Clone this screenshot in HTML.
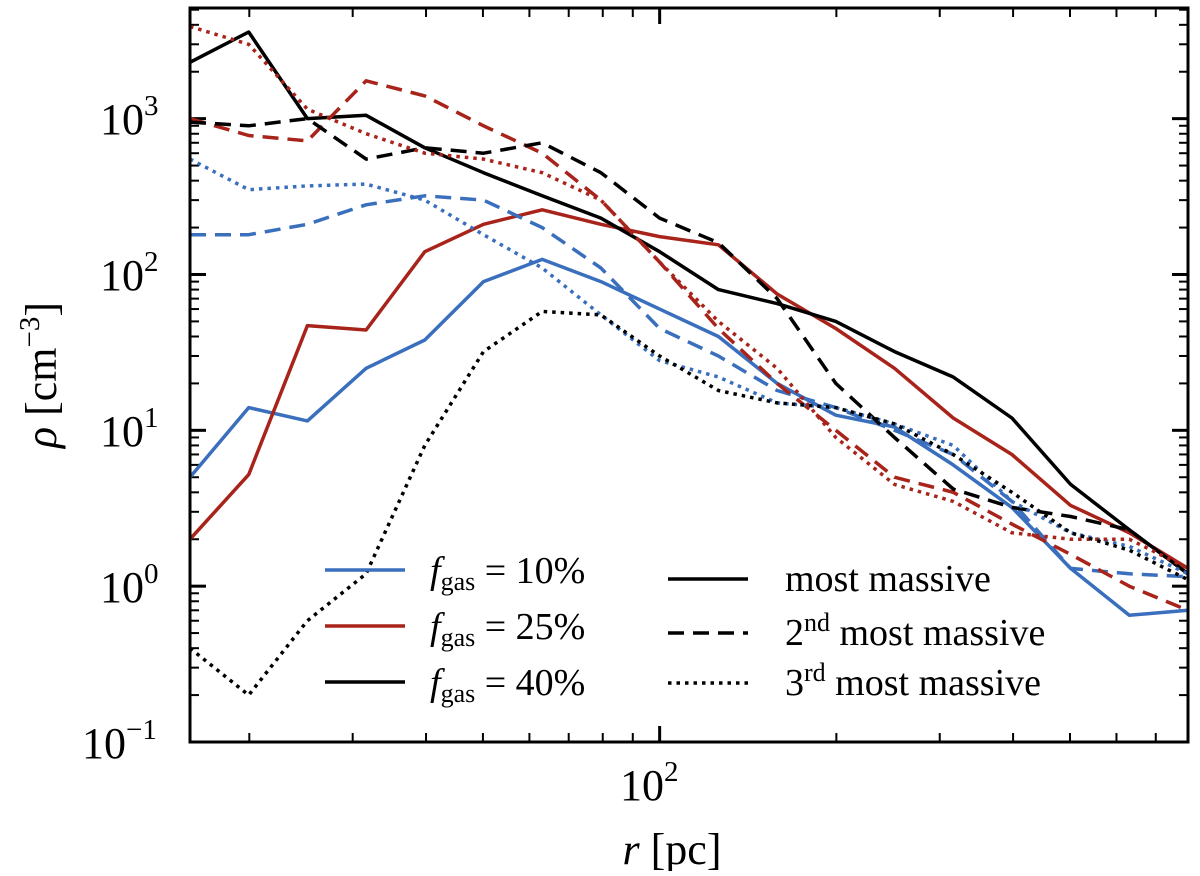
<!DOCTYPE html>
<html><head><meta charset="utf-8"><style>
body{margin:0;background:#fff}
svg text{font-family:"Liberation Serif",serif;fill:#000}
</style></head><body>
<svg id="chart" width="1200" height="871" xmlns="http://www.w3.org/2000/svg">
<g id="ticks"></g>
<g id="series"></g>
<rect x="190" y="8" width="998" height="734" fill="none" stroke="#000" stroke-width="3"/>
<g font-size="44">
<text x="100" y="134">10<tspan font-size="29" dy="-19">3</tspan></text>
<text x="100" y="290">10<tspan font-size="29" dy="-19">2</tspan></text>
<text x="100" y="446">10<tspan font-size="29" dy="-19">1</tspan></text>
<text x="100" y="602">10<tspan font-size="29" dy="-19">0</tspan></text>
<text x="82" y="758">10<tspan font-size="29" dy="-19">−1</tspan></text>
</g>
<text x="620" y="800" font-size="44">10<tspan font-size="29" dy="-19">2</tspan></text>
<text x="672" y="864" font-size="44" text-anchor="middle"><tspan font-style="italic">r</tspan> [pc]</text>
<text transform="translate(56,375) rotate(-90)" font-size="44" text-anchor="middle"><tspan font-style="italic">ρ</tspan> [cm<tspan font-size="29" dy="-17">−3</tspan><tspan dy="17">]</tspan></text>
<g font-size="38">
<line x1="325" x2="405" y1="570" y2="570" stroke="#3a6fbe" stroke-width="3.5"/>
<line x1="325" x2="405" y1="626" y2="626" stroke="#a8231a" stroke-width="3.5"/>
<line x1="325" x2="405" y1="682" y2="682" stroke="#000" stroke-width="3.5"/>
<text x="430" y="583"><tspan font-style="italic">f</tspan><tspan font-size="26" dy="7">gas</tspan><tspan dy="-7"> = 10%</tspan></text>
<text x="430" y="639"><tspan font-style="italic">f</tspan><tspan font-size="26" dy="7">gas</tspan><tspan dy="-7"> = 25%</tspan></text>
<text x="430" y="695"><tspan font-style="italic">f</tspan><tspan font-size="26" dy="7">gas</tspan><tspan dy="-7"> = 40%</tspan></text>
<line x1="668" x2="748" y1="579" y2="579" stroke="#000" stroke-width="3.5"/>
<line x1="668" x2="748" y1="633" y2="633" stroke="#000" stroke-width="3.5" stroke-dasharray="16,9"/>
<line x1="668" x2="748" y1="683" y2="683" stroke="#000" stroke-width="3.5" stroke-dasharray="3.5,5"/>
<text x="785" y="591">most massive</text>
<text x="785" y="645">2<tspan font-size="26" dy="-14">nd</tspan><tspan dy="14"> most massive</tspan></text>
<text x="785" y="695">3<tspan font-size="26" dy="-14">rd</tspan><tspan dy="14"> most massive</tspan></text>
</g>
</svg>
<script>
const logR = [1.2,1.3,1.4,1.5,1.6,1.7,1.8,1.9,2.0,2.1,2.2,2.3,2.4,2.5,2.6,2.7,2.8,2.9];
const blueSolid = [5,14,11.5,25,38,90,125,90,60,40,20,12.5,10.5,6,3.2,1.3,0.65,0.7];
const redSolid = [2,5.2,47,44,140,210,260,210,175,155,75,45,25,12,7,3.3,2.2,1.3];
const blackSolid = [2300,3600,1000,1050,650,450,320,230,140,80,65,50,32,22,12,4.5,2.3,1.2];
const blueDashed = [180,180,210,280,320,300,200,110,45,30,18,14,10,7,3.5,1.3,1.2,1.15];
const redDashed = [1000,780,720,1750,1400,900,600,300,120,45,20,10,5,4,2.5,1.6,1.0,0.7];
const blackDashed = [950,900,1000,550,650,600,700,450,230,160,70,20,9,4.2,3.2,2.8,2.3,1.2];
const blueDotted = [550,350,370,380,300,180,110,55,28,22,15,14,11,8,3.5,2.2,1.8,1.2];
const redDotted = [3900,3000,1150,800,600,550,450,300,120,50,25,9,4.5,3.5,2.2,2.0,2.0,1.3];
const blackDotted = [0.4,0.2,0.6,1.2,8,32,58,55,30,18,15,14,11,7,4,2.2,1.7,1.1];

const NS='http://www.w3.org/2000/svg';
const X0=190,X1=1188,Y0=742,Y1=8,LX0=1.2,LX1=2.9,LY0=-1,LY1=3.71;
function xs(lr){return X0+(lr-LX0)/(LX1-LX0)*(X1-X0);}
function ys(v){return Y0-(Math.log10(v)-LY0)/(LY1-LY0)*(Y0-Y1);}
const tk=document.getElementById('ticks');
function ln(x1,y1,x2,y2,w){const l=document.createElementNS(NS,'line');l.setAttribute('x1',x1);l.setAttribute('y1',y1);l.setAttribute('x2',x2);l.setAttribute('y2',y2);l.setAttribute('stroke','#000');l.setAttribute('stroke-width',w);


tk.appendChild(l);}
for(let d=-1;d<=3;d++){for(let m=1;m<=9;m++){const v=m*Math.pow(10,d);const lv=Math.log10(v);if(lv<LY0-1e-9||lv>LY1)continue;const y=ys(v);const L=m===1?16:9;ln(X0,y,X0+L,y,m===1?3:2);ln(X1,y,X1-L,y,m===1?3:2);}}
for(let d=1;d<=2;d++){for(let m=1;m<=9;m++){const lv=Math.log10(m*Math.pow(10,d));if(lv<LX0||lv>LX1)continue;const x=xs(lv);const L=m===1?16:9;ln(x,Y0,x,Y0-L,m===1?3:2);ln(x,Y1,x,Y1+L,m===1?3:2);}}
const sg=document.getElementById('series');
const defs=[[blueSolid,'#3a6fbe',null,'blue-solid'],[redSolid,'#a8231a',null,'red-solid'],[blackSolid,'#000',null,'black-solid'],
[blueDashed,'#3a6fbe','16,9','blue-dashed'],[redDashed,'#a8231a','16,9','red-dashed'],[blackDashed,'#000','16,9','black-dashed'],
[blueDotted,'#3a6fbe','3.5,5','blue-dotted'],[redDotted,'#a8231a','3.5,5','red-dotted'],[blackDotted,'#000','3.5,5','black-dotted']];
defs.forEach(([vals,c,da,name])=>{const p=document.createElementNS(NS,'polyline');
p.setAttribute('points',vals.map((v,i)=>xs(logR[i]).toFixed(1)+','+ys(v).toFixed(1)).join(' '));
p.setAttribute('fill','none');p.setAttribute('stroke',c);p.setAttribute('stroke-width','3.5');p.setAttribute('stroke-linejoin','round');
if(da)p.setAttribute('stroke-dasharray',da);


sg.appendChild(p);});
</script>
</body></html>
